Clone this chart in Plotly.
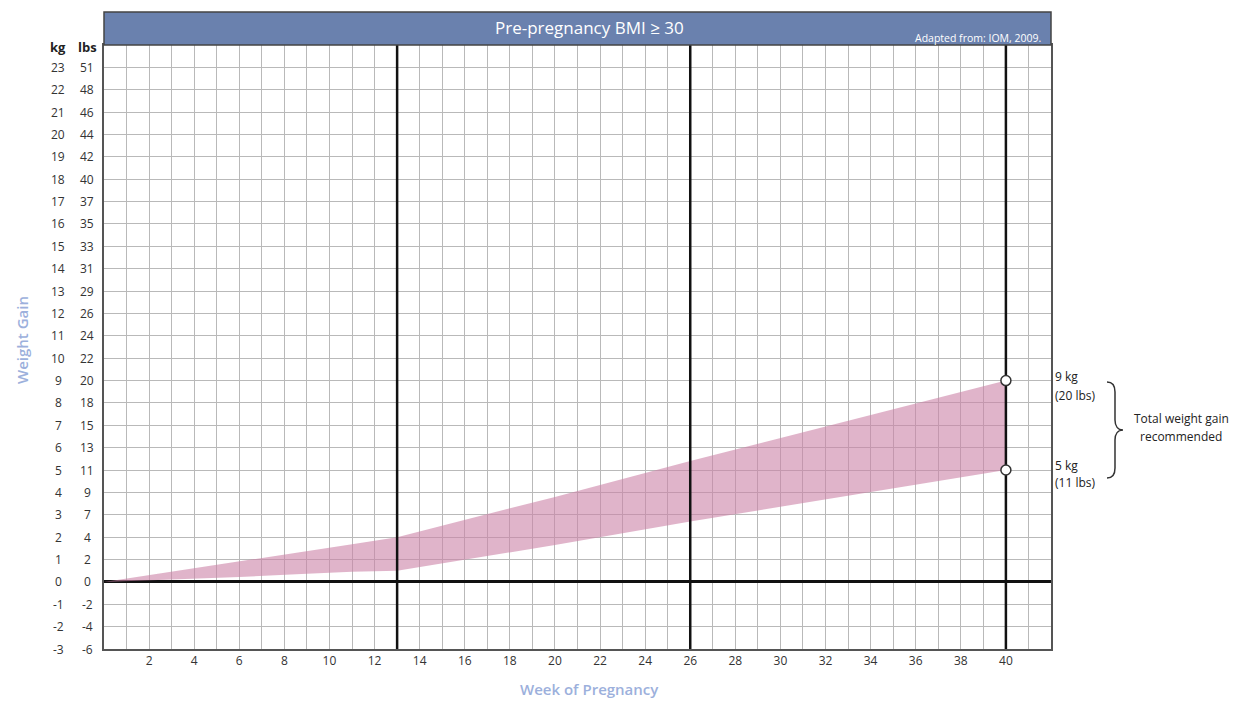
import plotly.graph_objects as go

# ---- data ----
weeks = [0, 3, 6, 9, 11, 13, 20, 26, 33, 40]
upper_kg = [0, 0.45, 0.9, 1.36, 1.68, 2.0, 3.8, 5.4, 7.2, 9.0]
lower_kg = [0, 0.1, 0.22, 0.36, 0.45, 0.5, 1.65, 2.7, 3.85, 5.0]
trimester_weeks = [13, 26, 40]
end_week = 40
end_points_kg = [9, 5]
kg_ticks = [23, 22, 21, 20, 19, 18, 17, 16, 15, 14, 13, 12, 11, 10, 9, 8, 7, 6, 5, 4, 3, 2, 1, 0, -1, -2, -3]
lbs_ticks = [51, 48, 46, 44, 42, 40, 37, 35, 33, 31, 29, 26, 24, 22, 20, 18, 15, 13, 11, 9, 7, 4, 2, 0, -2, -4, -6]
week_ticks = list(range(2, 41, 2))

FONT = "Open Sans"
OFF = 8  # browser body margin
W, H = 1253 - OFF, 709 - OFF
L, T = 104 - OFF, 45 - OFF
PLOT_R, PLOT_B = 1051 - OFF, 649 - OFF
R, B = W - PLOT_R, H - PLOT_B
PW, PH = PLOT_R - L, PLOT_B - T


def px(x):
    return (x - OFF - L) / PW


def py(y):
    return (PLOT_B - (y - OFF)) / PH


fig = go.Figure()

# band
fig.add_trace(go.Scatter(x=weeks, y=lower_kg, mode="lines", line=dict(width=0),
                         hoverinfo="skip", showlegend=False))
fig.add_trace(go.Scatter(x=weeks, y=upper_kg, mode="lines", line=dict(width=0),
                         fill="tonexty", fillcolor="rgba(203,130,167,0.6)",
                         hoverinfo="skip", showlegend=False))
# trimester lines
for w in trimester_weeks:
    fig.add_trace(go.Scatter(x=[w, w], y=[-3, 24], mode="lines",
                             line=dict(color="#111111", width=2.5),
                             hoverinfo="skip", showlegend=False))
# end markers
fig.add_trace(go.Scatter(x=[end_week] * len(end_points_kg), y=end_points_kg, mode="markers",
                         marker=dict(size=10, color="white", line=dict(color="#333333", width=1.5)),
                         cliponaxis=False, showlegend=False))

annotations = []
# y labels (kg / lbs columns)
for k, lb in zip(kg_ticks, lbs_ticks):
    annotations.append(dict(x=px(58), xref="paper", y=k, yref="y", text=str(k), showarrow=False,
                            xanchor="center", yanchor="middle",
                            font=dict(family=FONT, size=12, color="#333333")))
    annotations.append(dict(x=px(87), xref="paper", y=k, yref="y", text=str(lb), showarrow=False,
                            xanchor="center", yanchor="middle",
                            font=dict(family=FONT, size=12, color="#333333")))
annotations.append(dict(x=px(58), y=py(47), xref="paper", yref="paper", text="<b>kg</b>", showarrow=False,
                        xanchor="center", yanchor="middle", font=dict(family=FONT, size=13, color="#222222")))
annotations.append(dict(x=px(87), y=py(47), xref="paper", yref="paper", text="<b>lbs</b>", showarrow=False,
                        xanchor="center", yanchor="middle", font=dict(family=FONT, size=13, color="#222222")))
# title bar texts
annotations.append(dict(x=px(589), y=py(28), xref="paper", yref="paper", text="Pre-pregnancy BMI ≥ 30",
                        showarrow=False, xanchor="center", yanchor="middle",
                        font=dict(family=FONT, size=17, color="white")))
annotations.append(dict(x=px(1043), y=py(38), xref="paper", yref="paper", text="Adapted from: IOM, 2009.",
                        showarrow=False, xanchor="right", yanchor="middle",
                        font=dict(family=FONT, size=10.5, color="white")))
# axis titles
annotations.append(dict(x=px(22), y=py(340), xref="paper", yref="paper", text="Weight Gain", textangle=-90,
                        showarrow=False, xanchor="center", yanchor="middle",
                        font=dict(family=FONT, size=15, color="#9cb0dc", weight=600)))
annotations.append(dict(x=px(589), y=py(689), xref="paper", yref="paper", text="Week of Pregnancy",
                        showarrow=False, xanchor="center", yanchor="middle",
                        font=dict(family=FONT, size=15, color="#9cb0dc", weight=600)))
# right side labels
for txt, yy in [("9 kg", 377), ("(20 lbs)", 395), ("5 kg", 465), ("(11 lbs)", 482)]:
    annotations.append(dict(x=px(1053), y=py(yy), xref="paper", yref="paper", text=txt, showarrow=False,
                            xanchor="left", yanchor="middle", font=dict(family=FONT, size=12, color="#222222")))
for txt, yy in [("Total weight gain", 419), ("recommended", 436)]:
    annotations.append(dict(x=px(1181), y=py(yy), xref="paper", yref="paper", text=txt, showarrow=False,
                            xanchor="center", yanchor="middle", font=dict(family=FONT, size=12, color="#222222")))


# brace path (paper coords)
def P(x, y):
    return f"{px(x):.5f},{py(y):.5f}"


brace = ("M " + P(1107, 382) + " C " + P(1113, 382) + " " + P(1115, 386) + " " + P(1115, 392) +
         " L " + P(1115, 420) + " C " + P(1115, 426) + " " + P(1118, 430) + " " + P(1123, 430) +
         " C " + P(1118, 430) + " " + P(1115, 434) + " " + P(1115, 440) +
         " L " + P(1115, 468) + " C " + P(1115, 474) + " " + P(1113, 478) + " " + P(1107, 478))

shapes = [
    dict(type="rect", xref="paper", yref="paper", x0=0, x1=1, y0=1, y1=py(12),
         fillcolor="#6a81ae", line=dict(color="#444444", width=1.5), layer="above"),
    dict(type="path", xref="paper", yref="paper", path=brace, line=dict(color="#333333", width=1.5)),
]

fig.update_layout(
    width=W, height=H,
    margin=dict(l=L, r=R, t=T, b=B),
    paper_bgcolor="white", plot_bgcolor="white",
    showlegend=False,
    annotations=annotations,
    shapes=shapes,
    xaxis=dict(range=[0, 42], tickmode="array", tickvals=week_ticks, ticktext=[str(w) for w in week_ticks],
               showgrid=True, gridcolor="#b9b9b9", gridwidth=1,
               minor=dict(dtick=1, tick0=0, showgrid=True, gridcolor="#b9b9b9", gridwidth=1),
               showline=True, linecolor="#555555", linewidth=2, mirror=True,
               ticks="", zeroline=False,
               tickfont=dict(family=FONT, size=12, color="#333333"), fixedrange=True),
    yaxis=dict(range=[-3, 24], dtick=1, tick0=0, showgrid=True, gridcolor="#b9b9b9", gridwidth=1,
               showticklabels=False, ticks="",
               zeroline=True, zerolinecolor="#111111", zerolinewidth=2.5,
               showline=True, linecolor="#555555", linewidth=2, mirror=True, fixedrange=True),
)

fig.write_html("out.html")
